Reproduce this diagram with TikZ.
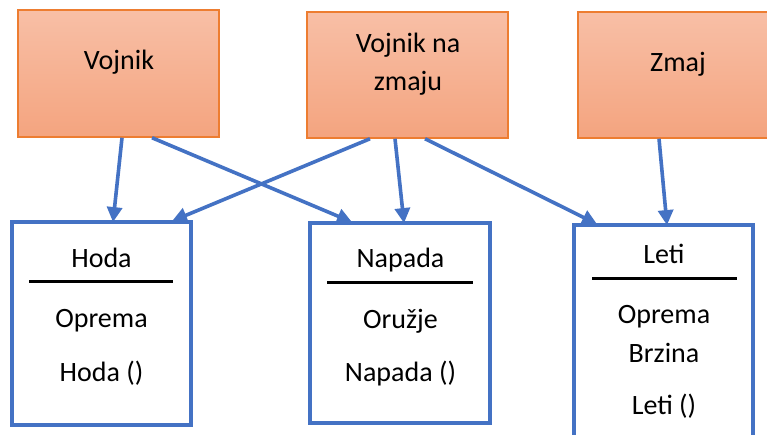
\documentclass[tikz,border=0pt]{standalone}
\usepackage{fontspec}
\setmainfont{Carlito}
\usetikzlibrary{arrows.meta}
\definecolor{arrowblue}{HTML}{4472C4}
\definecolor{boxorange}{HTML}{ED7D31}
\definecolor{gradtop}{HTML}{F8BFA6}
\definecolor{gradbot}{HTML}{F4A47F}
\tikzset{
  classbox/.style={draw=boxorange, line width=1.5pt, top color=gradtop, bottom color=gradbot, shading angle=0, inner sep=0pt},
  methodbox/.style={draw=arrowblue, line width=3.8pt, fill=white, inner sep=0pt},
  txt/.style={anchor=base, inner sep=0pt, font=\fontsize{28}{36}\selectfont},
  sepline/.style={draw=black, line width=3pt},
  conn/.style={draw=arrowblue, line width=3.6pt, -{Triangle[length=15pt,width=15pt]}}
}
\begin{document}
\begin{tikzpicture}[x=1pt,y=-1pt]
\clip (0,0) rectangle (767,435);
\fill[white] (0,0) rectangle (767,435);
% top boxes
\node[classbox, minimum width=201pt, minimum height=127pt] (vojnik) at (118.5,73.5) {};
\node[classbox, minimum width=201pt, minimum height=126pt] (vnz) at (407.5,75) {};
\node[classbox, minimum width=200pt, minimum height=126pt] (zmaj) at (678,75) {};
\node[txt] (tvojnik) at (119,70) {Vojnik};
\node[txt] (tvnz1) at (408,53) {Vojnik na};
\node[txt] (tvnz2) at (408,91) {zmaju};
\node[txt] (tzmaj) at (678,72) {Zmaj};
% bottom boxes
\node[methodbox, minimum width=179pt, minimum height=203pt] (hoda) at (101.5,323.5) {};
\node[methodbox, minimum width=180pt, minimum height=200pt] (napada) at (400,323) {};
\node[methodbox, minimum width=179pt, minimum height=240pt] (leti) at (663.5,345) {};
% hoda contents
\node[txt] (h1) at (101.5,267) {Hoda};
\coordinate (hl1) at (29,281); \coordinate (hl2) at (173,281);
\draw[sepline] (hl1) -- (hl2);
\node[txt] (h2) at (101.5,327) {Oprema};
\node[txt] (h3) at (101.5,381) {Hoda ()};
% napada contents
\node[txt] (n1) at (400.5,267) {Napada};
\coordinate (nl1) at (327,282); \coordinate (nl2) at (473,282);
\draw[sepline] (nl1) -- (nl2);
\node[txt] (n2) at (400.5,328) {Oružje};
\node[txt] (n3) at (400.5,381) {Napada ()};
% leti contents
\node[txt] (l1) at (664,264) {Leti};
\coordinate (ll1) at (592,278); \coordinate (ll2) at (737,278);
\draw[sepline] (ll1) -- (ll2);
\node[txt] (l2) at (664,323) {Oprema};
\node[txt] (l3) at (664,362) {Brzina};
\node[txt] (l4) at (664,414) {Leti ()};
% connectors
\draw[conn] ([xshift=3.5pt]vojnik.south) -- ([xshift=11.5pt,yshift=-2pt]hoda.north);
\draw[conn] ([xshift=33.5pt]vojnik.south) -- ([xshift=-48pt,yshift=-1pt]napada.north);
\draw[conn] ([xshift=-37.5pt]vnz.south) -- ([xshift=70.5pt,yshift=-1pt]hoda.north);
\draw[conn] ([xshift=-12.5pt]vnz.south) -- ([xshift=4pt,yshift=-2pt]napada.north);
\draw[conn] ([xshift=17.5pt]vnz.south) -- ([xshift=-66.5pt,yshift=-1pt]leti.north);
\draw[conn] ([xshift=-19pt]zmaj.south) -- ([xshift=3.5pt,yshift=-2pt]leti.north);
\end{tikzpicture}
\end{document}
